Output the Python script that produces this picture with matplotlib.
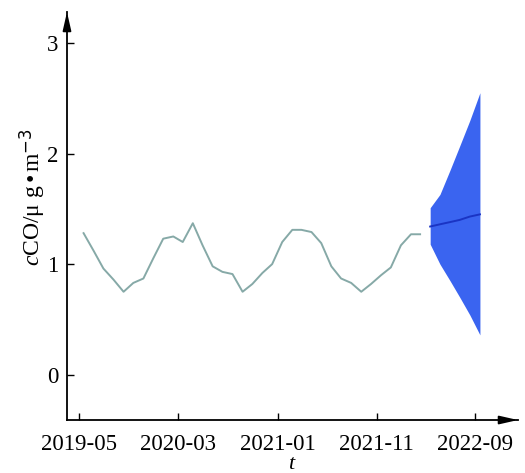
import numpy as np
import pandas as pd
import matplotlib
matplotlib.use("Agg")
import matplotlib.pyplot as plt

plt.rcParams['font.family'] = ['Liberation Serif', 'DejaVu Serif']
plt.rcParams['mathtext.fontset'] = 'custom'
plt.rcParams['mathtext.rm'] = 'Liberation Serif'
plt.rcParams['mathtext.it'] = 'Liberation Serif:italic'

# monthly CO concentration (observed)
obs_dates = pd.date_range("2019-05-01", periods=35, freq="MS") + pd.Timedelta(days=14)
obs_vals = [1.28, 1.12, 0.96, 0.86, 0.75, 0.83, 0.87, 1.05, 1.23, 1.25,
            1.20, 1.37, 1.17, 0.98, 0.93, 0.91, 0.75, 0.82, 0.92, 1.00,
            1.20, 1.31, 1.31, 1.29, 1.19, 0.98, 0.87, 0.83, 0.75, 0.82,
            0.90, 0.97, 1.17, 1.27, 1.27]

# forecast with confidence band
fc_dates = pd.date_range("2022-04-01", periods=6, freq="MS") + pd.Timedelta(days=14)
fc_mean = [1.34, 1.36, 1.38, 1.40, 1.43, 1.45]
fc_upper = [1.51, 1.63, 1.85, 2.07, 2.30, 2.55]
fc_lower = [1.18, 1.00, 0.85, 0.70, 0.54, 0.36]

tick_labels = ["2019-05", "2020-03", "2021-01", "2021-11", "2022-09"]
yticks = [0, 1, 2, 3]

fig = plt.figure(figsize=(5.25, 4.73), dpi=100)
ax = fig.add_axes([0.1276, 0.112, 0.859, 0.8626])

ax.plot(obs_dates, obs_vals, color="#86a9a7", lw=1.4)
ax.fill_between(fc_dates, fc_lower, fc_upper, color="#3a64f0", lw=0)
ax.plot(fc_dates, fc_mean, color="#1a34c4", lw=1.4)

tick_pos = pd.to_datetime(tick_labels)
ax.set_xticks(tick_pos)
ax.set_xticklabels(tick_labels)
ax.set_xlim(pd.Timestamp("2019-03-25"), pd.Timestamp("2023-01-10"))
ax.set_ylim(-0.41, 3.28)
ax.set_yticks(yticks)

ax.tick_params(direction="in", length=5, width=1, labelsize=16.5)
ax.tick_params(axis="x", pad=10)
ax.tick_params(axis="y", pad=6)
for s in ["top", "right"]:
    ax.spines[s].set_visible(False)
for s in ["left", "bottom"]:
    ax.spines[s].set_linewidth(1.3)

# arrow heads at the axis ends
ax.annotate("", xy=(1.0, 0), xytext=(0.96, 0), xycoords="axes fraction",
            arrowprops=dict(arrowstyle="-|>,head_length=1.1,head_width=0.25",
                            color="black", lw=1.3, shrinkA=0, shrinkB=0))
ax.annotate("", xy=(0, 1.0), xytext=(0, 0.96), xycoords="axes fraction",
            arrowprops=dict(arrowstyle="-|>,head_length=1.1,head_width=0.25",
                            color="black", lw=1.3, shrinkA=0, shrinkB=0))

fig.text(33 / 525, 1 - 197 / 473, r"$\it{c}$CO/μ g$\,$•$\,$m$^{\mathsf{-3}}$",
         fontsize=17, rotation=90, ha="center", va="center")
fig.text(292 / 525, 1 - 464 / 473, r"$\it{t}$", fontsize=16,
         ha="center", va="center")

fig.savefig("out.png", dpi=100)
